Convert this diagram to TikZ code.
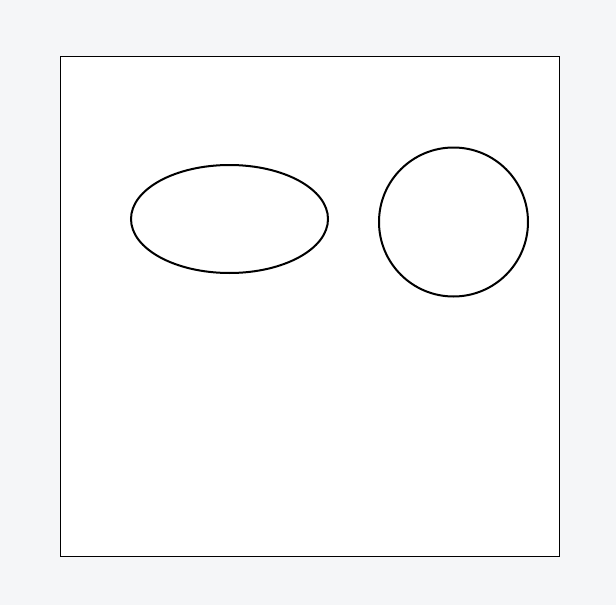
\documentclass[tikz,border=0pt]{standalone}
\usepackage{xcolor}
\usepackage{tikz}
\usetikzlibrary{positioning,shapes.geometric}
\definecolor{pagebg}{HTML}{F5F6F8}
\tikzset{
frame/.style={
draw=black,
fill=white,
line width=0.5pt
},
blob/.style={
draw=black,
line width=1pt,
inner sep=0pt
}
}

\begin{document}
\begin{tikzpicture}[x=0.5pt,y=-0.5pt]
\fill[pagebg](0,0)rectangle(616,605);
\useasboundingbox(0,0)rectangle(616,605);
\draw[frame](60,56)rectangle(559,556);
\node[blob,ellipse,minimum width=98.5pt,minimum height=54pt](oval)at(229.5,219){};
\node[blob,circle,minimum size=74.5pt](round)at(453.5,222){};
\end{tikzpicture}
\end{document}
